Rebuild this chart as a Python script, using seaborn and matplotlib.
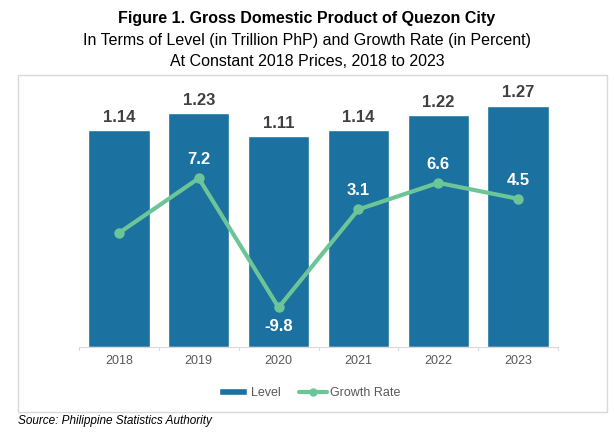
import matplotlib
matplotlib.use("Agg")
import matplotlib.pyplot as plt
import seaborn as sns
import pandas as pd
from matplotlib.patches import Rectangle, Patch
from matplotlib.lines import Line2D

years = ["2018", "2019", "2020", "2021", "2022", "2023"]
level = [1.14, 1.23, 1.11, 1.14, 1.22, 1.27]
growth = [0.0, 7.2, -9.8, 3.1, 6.6, 4.5]
growth_labels = ["", "7.2", "-9.8", "3.1", "6.6", "4.5"]

bar_color = "#1B719F"
line_color = "#6CC597"

sns.set_style("white")
plt.rcParams["font.family"] = ["Liberation Sans", "DejaVu Sans"]

df = pd.DataFrame({"year": years, "level": level, "growth": growth})

fig = plt.figure(figsize=(6.14, 4.32), dpi=100)
ax = fig.add_axes([79 / 614, 1 - 347 / 432, (558 - 79) / 614, (347 - 81) / 432])

sns.barplot(data=df, x="year", y="level", color=bar_color, width=0.77,
            saturation=1, ax=ax)
ax.set_ylim(0, 1.4)
ax.set_xlim(-0.5, 5.5)
ax.set_xlabel("")
ax.set_ylabel("")
ax.set_yticks([])
for s in ["top", "left", "right"]:
    ax.spines[s].set_visible(False)
ax.spines["bottom"].set_color("#D9D9D9")
ax.tick_params(axis="x", length=0, labelsize=9, labelcolor="#595959", pad=6)
# small separators between categories
for xb in [-0.5, 0.5, 1.5, 2.5, 3.5, 4.5, 5.5]:
    ax.plot([xb, xb], [0, -0.015], color="#D9D9D9", lw=0.8, clip_on=False)

for i, v in enumerate(level):
    ax.annotate(f"{v:.2f}", (i, v), xytext=(0, 4), textcoords="offset points",
                ha="center", va="bottom", fontsize=12, fontweight="bold",
                color="#404040")

ax2 = ax.twinx()
sns.lineplot(x=list(range(len(years))), y=growth, ax=ax2, color=line_color,
             lw=3, marker="o", markersize=7.5, markeredgewidth=0)
ax2.set_ylim(-15, 20)
ax2.set_yticks([])
for s in ["top", "left", "right", "bottom"]:
    ax2.spines[s].set_visible(False)

for i, (v, t) in enumerate(zip(growth, growth_labels)):
    if not t:
        continue
    dy = -8 if v < 0 else 8
    ax2.annotate(t, (i, v), xytext=(0, dy), textcoords="offset points",
                 ha="center", va="top" if v < 0 else "bottom", fontsize=12,
                 fontweight="bold", color="white")

# titles
fig.text(0.5, 1 - 19 / 432, "Figure 1. Gross Domestic Product of Quezon City",
         ha="center", va="center", fontsize=11.5, fontweight="bold", color="black")
fig.text(0.5, 1 - 41 / 432,
         "In Terms of Level (in Trillion PhP) and Growth Rate (in Percent)",
         ha="center", va="center", fontsize=11.5, color="black")
fig.text(0.5, 1 - 62 / 432, "At Constant 2018 Prices, 2018 to 2023",
         ha="center", va="center", fontsize=11.5, color="black")

# chart border
fig.patches.append(Rectangle((18 / 614, 1 - 412 / 432), (607 - 18) / 614,
                             (412 - 75) / 432, transform=fig.transFigure,
                             fill=False, edgecolor="#D9D9D9", lw=1))

handles = [Patch(facecolor=bar_color, label="Level"),
           Line2D([0], [0], color=line_color, lw=3, marker="o", markersize=5,
                  label="Growth Rate")]
fig.legend(handles=handles, loc="center", bbox_to_anchor=(0.505, 1 - 393 / 432),
           ncol=2, frameon=False, fontsize=9, labelcolor="#595959",
           handlelength=2.2, handleheight=0.5, handletextpad=0.3, columnspacing=1.5)

fig.text(18 / 614, 1 - 421 / 432, "Source: Philippine Statistics Authority",
         ha="left", va="center", fontsize=8.5, style="italic", color="black")

fig.savefig("out.png", dpi=100)
